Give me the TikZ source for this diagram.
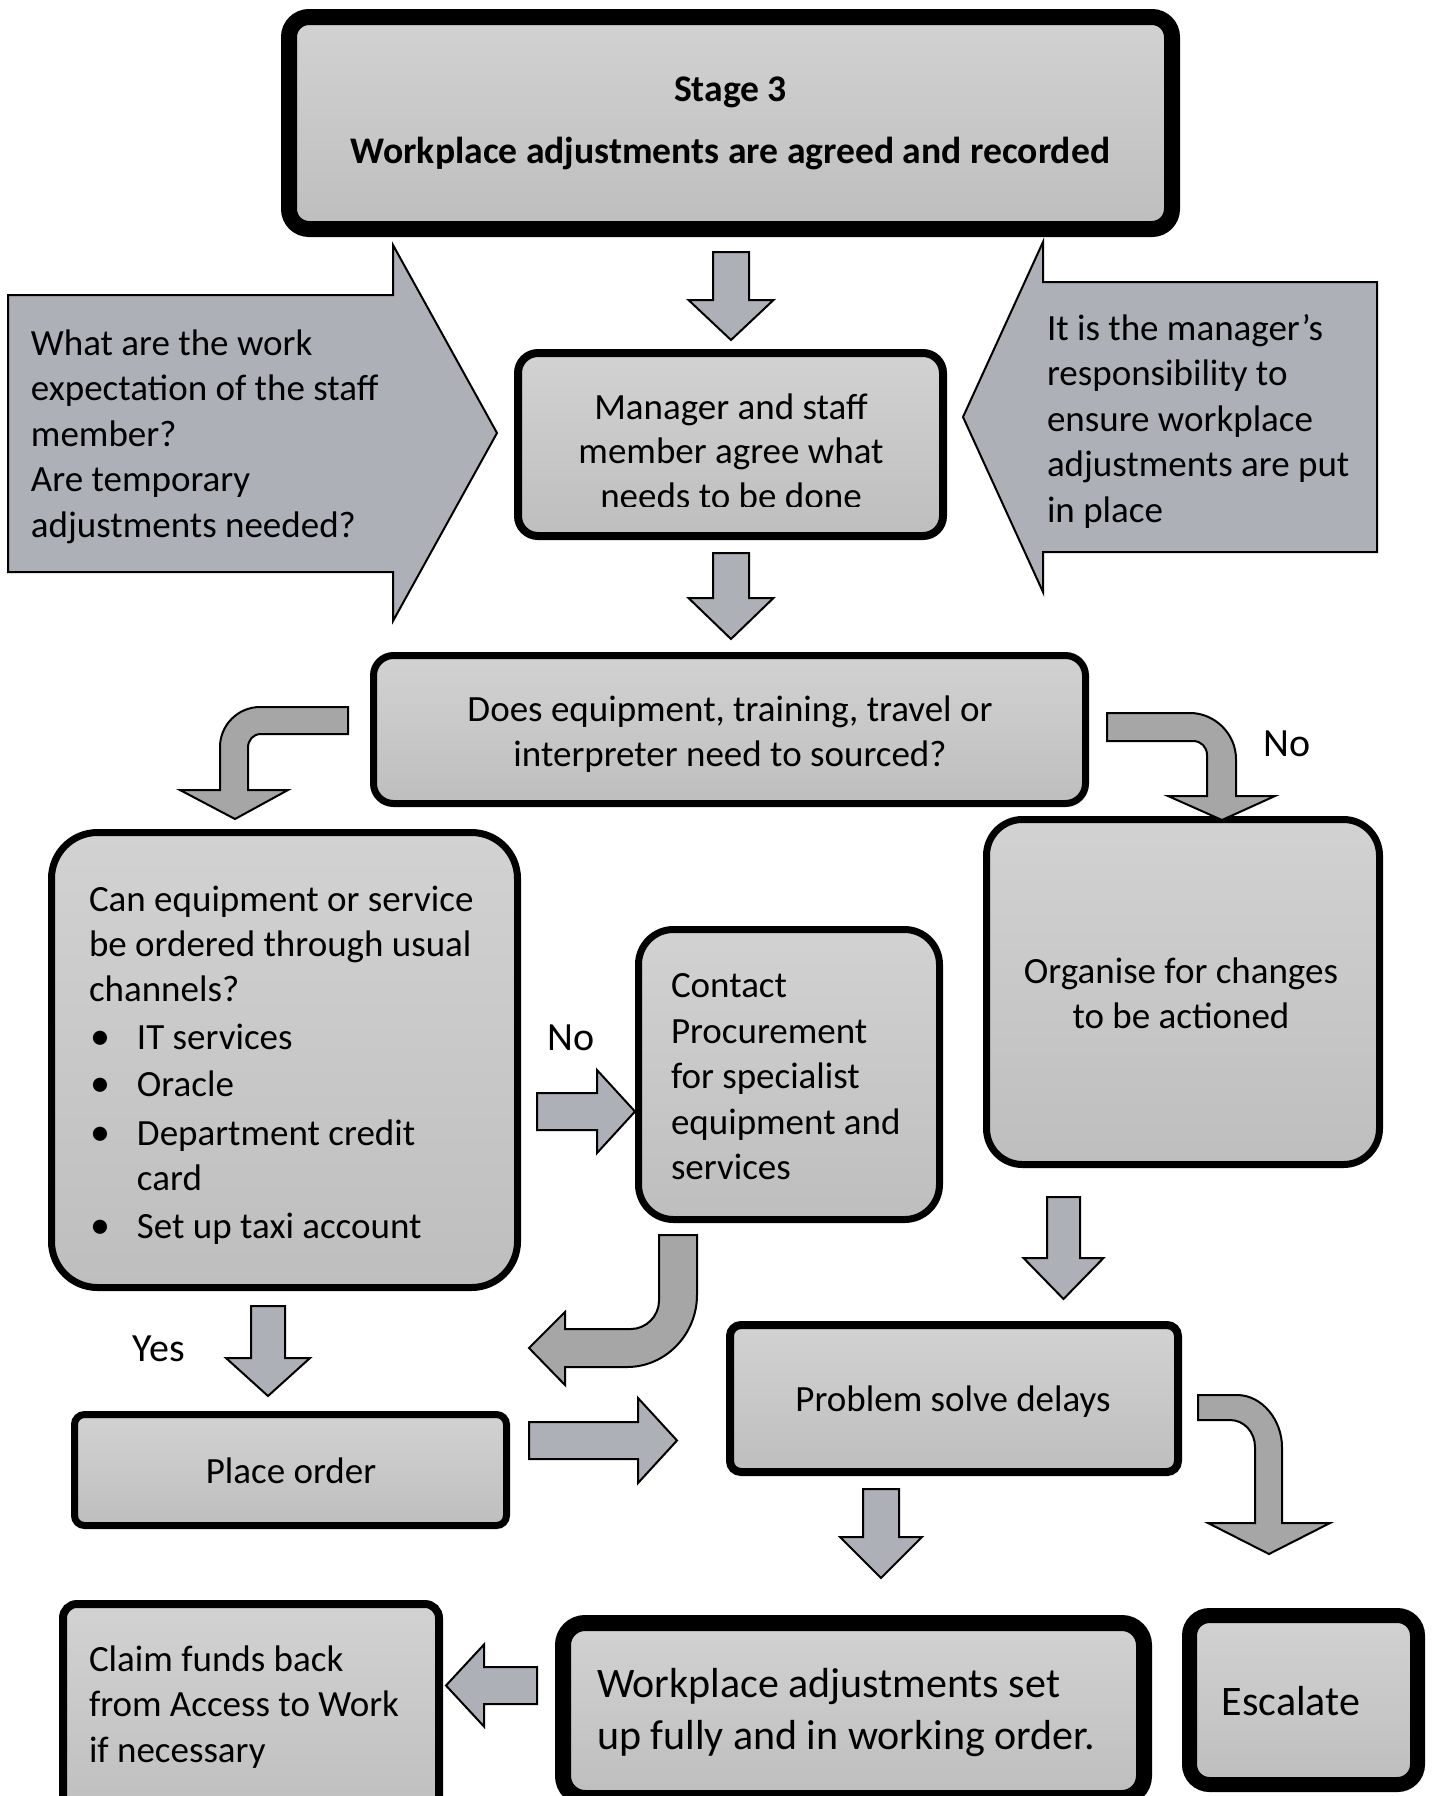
\documentclass[tikz,border=0pt]{standalone}
\usepackage{fontspec}
\setmainfont{Carlito}

\definecolor{boxtop}{RGB}{210,210,210}
\definecolor{boxbot}{RGB}{190,190,190}
\definecolor{blockfill}{RGB}{174,176,184}
\definecolor{bentfill}{RGB}{166,166,166}

\newcommand\bodyfont{\fontsize{18.5}{22.75}\selectfont}
\newcommand\largefont{\fontsize{21}{26}\selectfont}
\newcommand\tagfont{\fontsize{20}{24}\selectfont}
\newcommand\bul{\makebox[24pt][l]{\hspace{1pt}\fontsize{20}{22.5}\selectfont•}}
\newcommand\nobul{\hspace*{24pt}}

% straight block arrows: centre, start, shaft half width, head base, head half width, tip
\newcommand\blockdown[6]{%
  \draw[blockarrow] (#1-#3,#2) -- (#1+#3,#2) -- (#1+#3,#4) -- (#1+#5,#4)
    -- (#1,#6) -- (#1-#5,#4) -- (#1-#3,#4) -- cycle;}
\newcommand\blockacross[6]{%
  \draw[blockarrow] (#2,#1-#3) -- (#2,#1+#3) -- (#4,#1+#3) -- (#4,#1+#5)
    -- (#6,#1) -- (#4,#1-#5) -- (#4,#1-#3) -- cycle;}

\tikzset{
  stepbox/.style={draw=black, line width=3.5pt, top color=boxtop,
    bottom color=boxbot, rectangle, inner sep=0pt, outer sep=0pt},
  heavybox/.style={stepbox, line width=8pt},
  blockarrow/.style={draw=black, line width=1pt, fill=blockfill, line join=miter},
  bentarrow/.style={draw=black, line width=1pt, fill=bentfill, line join=miter},
  callout/.style={draw=black, line width=1pt, fill=blockfill, line join=miter},
  txt/.style={inner sep=0pt, outer sep=0pt, font=\bodyfont},
}

\begin{document}
\begin{tikzpicture}[x=0.5pt, y=-0.5pt]
\useasboundingbox (0,0) rectangle (1432,1796);
\fill[white] (0,0) rectangle (1432,1796);

% side callouts
\draw[callout] (8,295) -- (393,295) -- (393,245) -- (497,433) -- (393,621)
  -- (393,572) -- (8,572) -- cycle;
\draw[callout] (1377,282) -- (1043,282) -- (1043,242) -- (963,417) -- (1043,592)
  -- (1043,552) -- (1377,552) -- cycle;

% process boxes
\node[heavybox, minimum width=441.5pt, minimum height=106pt, rounded corners=10pt] (stage) at (730.5,123) {};
\node[stepbox, line width=4pt, minimum width=212.5pt, minimum height=91.5pt, rounded corners=10pt] (agree) at (730.5,444.5) {};
\node[stepbox, minimum width=356pt, minimum height=74pt, rounded corners=10pt] (sourced) at (729.5,729.5) {};
\node[stepbox, minimum width=233pt, minimum height=227.5pt, rounded corners=23pt] (usual) at (284.5,1060) {};
\node[stepbox, minimum width=150.5pt, minimum height=145pt, rounded corners=17.5pt] (procure) at (789,1074.5) {};
\node[stepbox, minimum width=196.5pt, minimum height=172.5pt, rounded corners=18pt] (organise) at (1183,992) {};
\node[stepbox, minimum width=216pt, minimum height=55.5pt, rounded corners=5pt] (order) at (290.5,1470) {};
\node[stepbox, line width=4pt, minimum width=224pt, minimum height=73.5pt, rounded corners=5.5pt] (delays) at (954,1398.5) {};
\node[stepbox, line width=4pt, minimum width=188pt, minimum height=111pt, rounded corners=7pt] (claim) at (251,1715) {};
\node[heavybox, minimum width=290.5pt, minimum height=87.5pt, rounded corners=11pt] (working) at (853.5,1710.5) {};
\node[heavybox, line width=7.5pt, minimum width=114pt, minimum height=84.5pt, rounded corners=10pt] (escalate) at (1303.5,1700) {};

% box texts
\node[txt, anchor=base, font=\bfseries\fontsize{18.8}{22.75}\selectfont] (stagetext) at (730.5,101)
  {\begin{minipage}[t]{480pt}\centering Stage 3\\[8.25pt]
   Workplace adjustments are agreed and recorded\end{minipage}};

\node[txt, anchor=base west] (expecttext) at (31,355)
  {\begin{minipage}[t]{220pt}What are the work\\expectation of the staff\\member?\\Are temporary\\adjustments needed?\end{minipage}};

\node[txt, anchor=base west] (dutytext) at (1047,340)
  {\begin{minipage}[t]{200pt}It is the manager’s\\responsibility to\\ensure workplace\\adjustments are put\\in place\end{minipage}};

% the last line of this box runs into the bottom edge of its text area
\begin{scope}
  \clip (518,353) rectangle (943,506.5);
  \node[txt, anchor=base] (agreetext) at (731,419)
    {\begin{minipage}[t]{210pt}\centering Manager and staff\\[-0.4pt]
     member agree what\\[-0.4pt] needs to be done\end{minipage}};
\end{scope}

\node[txt, anchor=base] (sourcedtext) at (730,721)
  {\begin{minipage}[t]{340pt}\centering Does equipment, training, travel or\\interpreter need to sourced?\end{minipage}};

\node[txt, anchor=base west] (usualtext) at (89,911)
  {\begin{minipage}[t]{225pt}\fontsize{18.5}{22.5}\selectfont
   Can equipment or service\\
   be ordered through usual\\
   channels?\\[1.5pt]
   \bul IT services\\[1pt]
   \bul Oracle\\[2pt]
   \bul Department credit\\
   \nobul card\\[1.5pt]
   \bul Set up taxi account\end{minipage}};

\node[txt, anchor=base west] (procuretext) at (671,997.5)
  {\begin{minipage}[t]{150pt}Contact\\Procurement\\for specialist\\equipment and\\services\end{minipage}};

\node[txt, anchor=base] (organisetext) at (1181,983)
  {\begin{minipage}[t]{190pt}\centering Organise for changes\\to be actioned\end{minipage}};

\node[txt, anchor=base] (ordertext) at (291,1483) {Place order};
\node[txt, anchor=base] (delaystext) at (953,1411) {Problem solve delays};

\node[txt, anchor=base west] (claimtext) at (89,1671)
  {\begin{minipage}[t]{185pt}Claim funds back\\from Access to Work\\if necessary\end{minipage}};

\node[txt, anchor=base west, font=\largefont] (workingtext) at (597,1697)
  {\begin{minipage}[t]{280pt}Workplace adjustments set\\up fully and in working order.\end{minipage}};

\node[txt, anchor=base, font=\largefont] (escalatetext) at (1291,1715) {Escalate};

% branch labels
\node[txt, anchor=base, font=\tagfont] (noright) at (1287,756) {No};
\node[txt, anchor=base, font=\tagfont] (nomid) at (571,1050) {No};
\node[txt, anchor=base, font=\tagfont] (yes) at (159,1361) {Yes};

% straight block arrows
\blockdown{731}{252}{18}{300}{42.5}{340}
\blockdown{731}{553}{18}{598}{42.5}{639}
\blockdown{1063.5}{1197}{16.5}{1258}{40}{1299}
\blockdown{268}{1306}{17}{1358}{42}{1396}
\blockdown{881}{1489}{18}{1537}{41}{1578}
\blockacross{1111.5}{537}{18.5}{597}{41.5}{635}
\blockacross{1440.5}{529}{18.5}{638}{42.5}{677}
\blockacross{1685.5}{537}{18.5}{484}{41}{446}

% bent block arrows
\draw[bentarrow] (348,707) -- (260,707) .. controls (238,707) and (220,725) .. (220,747)
  -- (220,790) -- (180,790) -- (235,819) -- (288,790) -- (248,790) -- (248,748)
  .. controls (248,740) and (253,734) .. (261,734) -- (348,734) -- cycle;
\draw[bentarrow] (1107,713) -- (1190,713) .. controls (1215,713) and (1236,734) .. (1236,759)
  -- (1236,796) -- (1275,796) -- (1222,820) -- (1168,796) -- (1207,796) -- (1207,755)
  .. controls (1207,747) and (1201,741) .. (1193,741) -- (1107,741) -- cycle;
\draw[bentarrow] (659,1235) -- (697,1235) -- (697,1295) .. controls (697,1334) and (666,1367) .. (627,1367)
  -- (565,1367) -- (565,1385) -- (529,1348) -- (565,1312) -- (565,1329) -- (631,1329)
  .. controls (646,1329) and (659,1316) .. (659,1301) -- cycle;
\draw[bentarrow] (1198,1395) -- (1237,1395) .. controls (1262,1395) and (1282,1420) .. (1282,1447)
  -- (1282,1523) -- (1330,1523) -- (1269,1554) -- (1208,1523) -- (1255,1523) -- (1255,1447)
  .. controls (1255,1432) and (1244,1420) .. (1230,1420) -- (1198,1420) -- cycle;
\end{tikzpicture}
\end{document}
